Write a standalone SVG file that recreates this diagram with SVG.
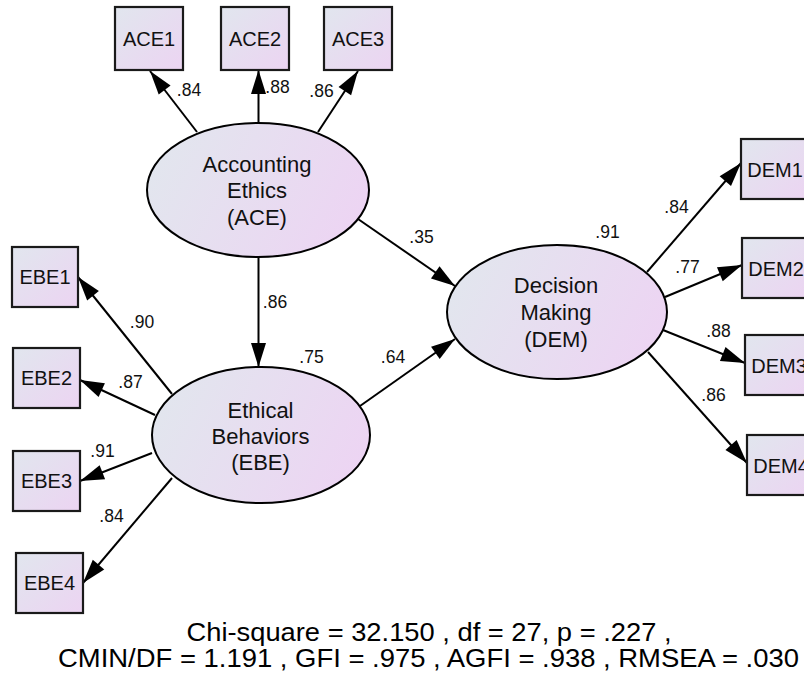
<svg xmlns="http://www.w3.org/2000/svg" width="804" height="677" viewBox="0 0 804 677">
<defs>
<linearGradient id="gbox" x1="0" y1="0" x2="1" y2="1">
<stop offset="0" stop-color="#e1e6ee"/>
<stop offset="1" stop-color="#ecd4f2"/>
</linearGradient>
<linearGradient id="gell" x1="0" y1="0.35" x2="1" y2="0.65">
<stop offset="0" stop-color="#e2e6ee"/>
<stop offset="1" stop-color="#edd4f3"/>
</linearGradient>
<marker id="ah" markerUnits="userSpaceOnUse" markerWidth="24" markerHeight="15" refX="24" refY="7.5" orient="auto" overflow="visible">
<path d="M0,0 L24,7.5 L0,15 z" fill="#000"/>
</marker>
</defs>
<style>
.box{fill:url(#gbox);stroke:#1a1a1a;stroke-width:2.2}
.ell{fill:url(#gell);stroke:#000;stroke-width:2}
.bt{font-family:"Liberation Sans",Arial,sans-serif;font-size:20px;fill:#111;text-anchor:middle}
.et{font-family:"Liberation Sans",Arial,sans-serif;font-size:22px;fill:#111;text-anchor:middle}
.lb{font-family:"Liberation Sans",Arial,sans-serif;font-size:17.5px;fill:#111;text-anchor:middle}
.ft{font-family:"Liberation Sans",Arial,sans-serif;font-size:25px;fill:#000;text-anchor:middle}
.cn line{stroke:#000;stroke-width:2;marker-end:url(#ah)}
</style>
<rect width="804" height="677" fill="#fff"/>

<g id="connectors" class="cn">
<line x1="197" y1="132" x2="150" y2="71"/>
<line x1="258.5" y1="122" x2="258.5" y2="70"/>
<line x1="318" y1="132" x2="358" y2="71"/>
<line x1="258.5" y1="257" x2="258.5" y2="367"/>
<line x1="358" y1="219" x2="455" y2="286"/>
<line x1="360" y1="406" x2="455" y2="339"/>
<line x1="172" y1="394" x2="78" y2="277"/>
<line x1="155" y1="415" x2="80" y2="380"/>
<line x1="152" y1="453" x2="80" y2="481"/>
<line x1="172" y1="478" x2="83" y2="583"/>
<line x1="647" y1="272" x2="741" y2="163"/>
<line x1="665" y1="297" x2="742" y2="265"/>
<line x1="663" y1="330" x2="745" y2="363"/>
<line x1="648" y1="352" x2="747" y2="463"/>
</g>

<g id="ACE1"><rect class="box" x="115" y="7" width="68" height="63"/><text class="bt" x="149" y="46">ACE1</text></g>
<g id="ACE2"><rect class="box" x="221" y="7" width="68" height="63"/><text class="bt" x="255" y="46">ACE2</text></g>
<g id="ACE3"><rect class="box" x="324" y="7" width="68" height="63"/><text class="bt" x="358" y="46">ACE3</text></g>

<g id="EBE1"><rect class="box" x="12" y="247" width="66" height="60"/><text class="bt" x="45" y="284">EBE1</text></g>
<g id="EBE2"><rect class="box" x="13" y="348" width="67" height="60"/><text class="bt" x="46.5" y="385">EBE2</text></g>
<g id="EBE3"><rect class="box" x="13" y="451" width="67" height="60"/><text class="bt" x="46.5" y="488">EBE3</text></g>
<g id="EBE4"><rect class="box" x="16" y="553" width="67" height="60"/><text class="bt" x="49.5" y="590">EBE4</text></g>

<g id="DEM1"><rect class="box" x="741" y="139" width="67" height="60"/><text class="bt" x="775" y="176.5">DEM1</text></g>
<g id="DEM2"><rect class="box" x="742" y="238" width="67" height="60"/><text class="bt" x="776" y="275.5">DEM2</text></g>
<g id="DEM3"><rect class="box" x="745" y="335" width="67" height="60"/><text class="bt" x="779" y="372.5">DEM3</text></g>
<g id="DEM4"><rect class="box" x="747" y="435" width="67" height="60"/><text class="bt" x="781" y="472.5">DEM4</text></g>

<g id="ACE"><ellipse class="ell" cx="258" cy="190" rx="111" ry="67"/>
<text class="et" x="257" y="172">Accounting</text><text class="et" x="257" y="198">Ethics</text><text class="et" x="257" y="225">(ACE)</text></g>
<g id="EBE"><ellipse class="ell" cx="261" cy="435" rx="109" ry="68"/>
<text class="et" x="260.5" y="418">Ethical</text><text class="et" x="260.5" y="444">Behaviors</text><text class="et" x="260.5" y="470">(EBE)</text></g>
<g id="DEM"><ellipse class="ell" cx="557" cy="312" rx="110" ry="67"/>
<text class="et" x="556" y="293">Decision</text><text class="et" x="556" y="320">Making</text><text class="et" x="556" y="347">(DEM)</text></g>

<g id="labels">
<text class="lb" x="189" y="96">.84</text>
<text class="lb" x="277.5" y="93">.88</text>
<text class="lb" x="321.5" y="96.5">.86</text>
<text class="lb" x="275" y="308">.86</text>
<text class="lb" x="311.5" y="363">.75</text>
<text class="lb" x="142" y="328">.90</text>
<text class="lb" x="130.5" y="388">.87</text>
<text class="lb" x="102.5" y="457">.91</text>
<text class="lb" x="111.5" y="522">.84</text>
<text class="lb" x="421.5" y="243">.35</text>
<text class="lb" x="393" y="363">.64</text>
<text class="lb" x="607.5" y="238">.91</text>
<text class="lb" x="676.5" y="213">.84</text>
<text class="lb" x="687.5" y="273">.77</text>
<text class="lb" x="718.5" y="337">.88</text>
<text class="lb" x="713.5" y="401">.86</text>
</g>

<g id="fit">
<text class="ft" x="429" y="641" textLength="485" lengthAdjust="spacingAndGlyphs">Chi-square = 32.150 , df = 27, p = .227 ,</text>
<text class="ft" x="428.5" y="667" textLength="741" lengthAdjust="spacingAndGlyphs">CMIN/DF = 1.191 , GFI = .975 , AGFI = .938 , RMSEA = .030</text>
</g>
</svg>
